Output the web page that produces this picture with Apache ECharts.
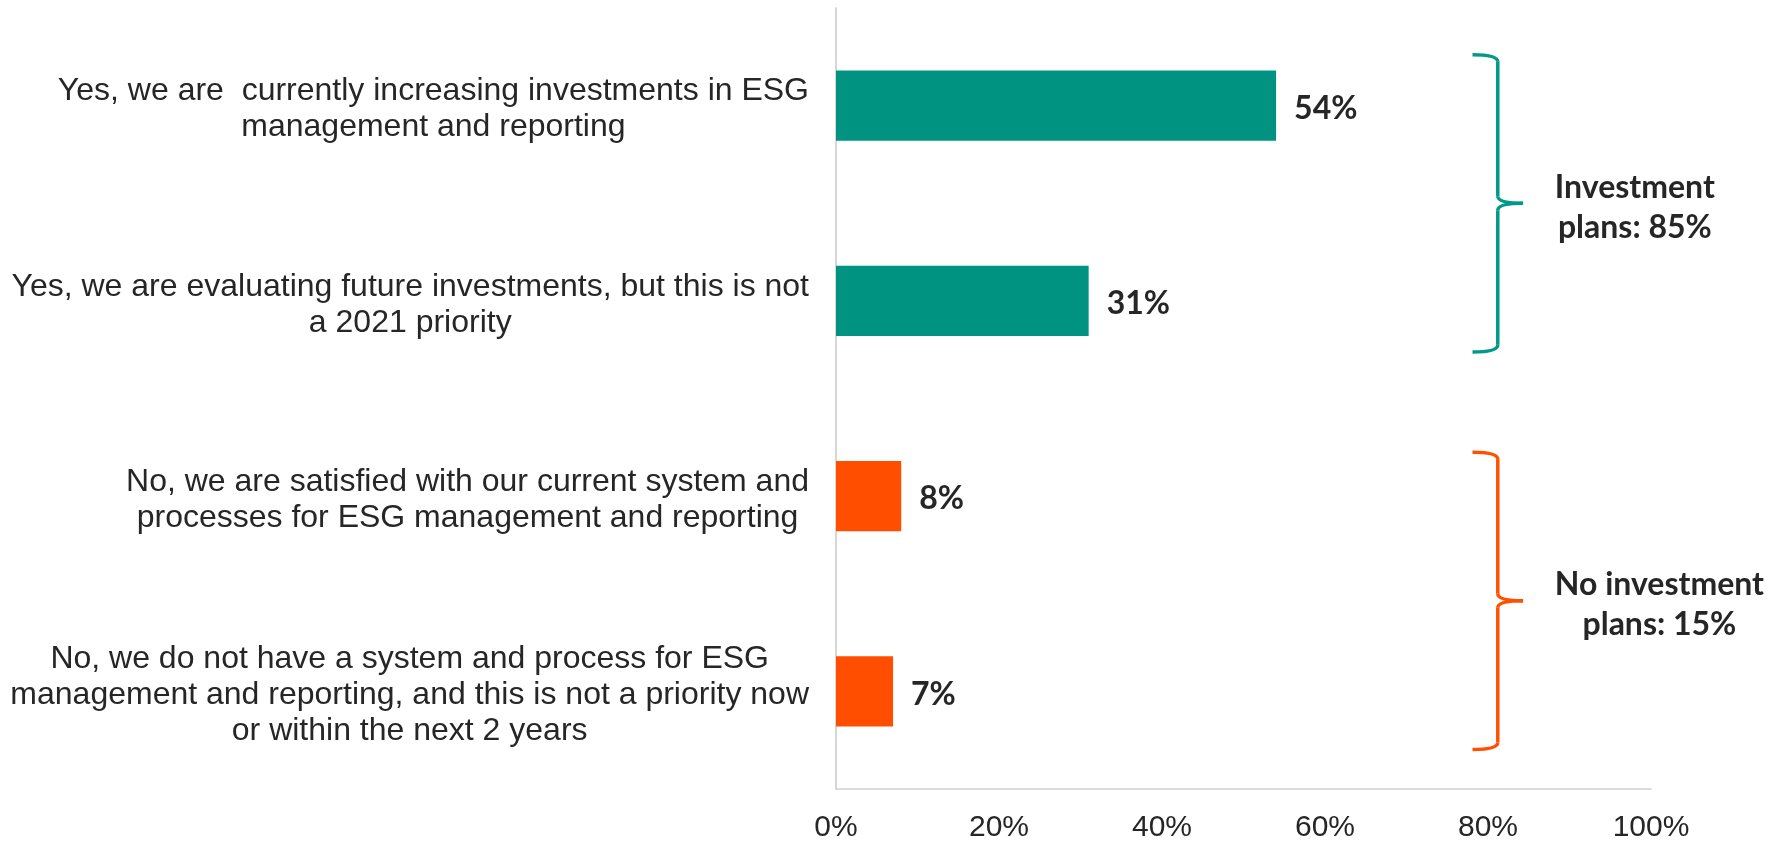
<!DOCTYPE html>
<html>
<head>
<meta charset="utf-8">
<script src="https://cdn.jsdelivr.net/npm/echarts@6/dist/echarts.min.js"></script>
<style>
  html, body { margin: 0; padding: 0; background: #fff; }
  #main { width: 1781px; height: 843px; }
</style>
</head>
<body>
<div id="main"></div>
<script>
// data
var categories = [
  'Yes, we are  currently increasing investments in ESG\nmanagement and reporting',
  'Yes, we are evaluating future investments, but this is not\na 2021 priority',
  'No, we are satisfied with our current system and\nprocesses for ESG management and reporting',
  'No, we do not have a system and process for ESG\nmanagement and reporting, and this is not a priority now\nor within the next 2 years'
];
var values = [54, 31, 8, 7];
var groupOf = [0, 0, 1, 1];
var groupLines = [['Investment', 'plans: '], ['No investment', 'plans: ']];
var groupTotals = [85, 15];
var xTicks = [0, 20, 40, 60, 80, 100];

// styles
var groupColors = ['#009382', '#FF4E00'];
var braceColors = ['#00998A', '#FF5000'];
var textColor = '#262626';
var braceShift = [0, 7];

var chart = echarts.init(document.getElementById('main'));

var option = {
  backgroundColor: '#fff',
  animation: false,
  grid: { left: 836, right: 130, top: 8, bottom: 51, containLabel: false },
  xAxis: {
    type: 'value',
    min: xTicks[0],
    max: xTicks[xTicks.length - 1],
    interval: xTicks[1] - xTicks[0],
    splitLine: { show: false },
    axisTick: { show: false },
    axisLine: { show: true, lineStyle: { color: '#d0d0d0', width: 1.5 } },
    axisLabel: {
      formatter: function (v) { return v + '%'; },
      fontFamily: 'Liberation Sans',
      fontSize: 30,
      color: textColor,
      margin: 24
    }
  },
  yAxis: {
    type: 'category',
    inverse: true,
    data: categories,
    axisTick: { show: false },
    splitLine: { show: false },
    axisLine: { show: true, lineStyle: { color: '#c8c8c8', width: 1.5 } },
    axisLabel: {
      margin: 27,
      padding: [8, 0, 0, 0],
      formatter: function (v) {
        return v.split('\n').map(function (l) { return '{c|' + l + '}'; }).join('\n');
      },
      rich: {
        c: { align: 'center', fontFamily: 'Liberation Sans', fontSize: 32, lineHeight: 36, color: textColor }
      }
    }
  },
  series: [{
    type: 'bar',
    data: values,
    barCategoryGap: '64%',
    itemStyle: {
      color: function (p) { return groupColors[groupOf[p.dataIndex]]; }
    },
    label: {
      show: true,
      position: 'right',
      distance: 18,
      offset: [0, 3],
      formatter: function (p) { return p.value + '%'; },
      fontFamily: 'Lato',
      fontWeight: 'bold',
      fontSize: 32,
      color: textColor
    }
  }]
};
chart.setOption(option);

// braces + group totals, placed from the axes
function brace(xl, xm, xt, top, mid, bottom, color) {
  var r = 7;
  var st = { stroke: color, lineWidth: 3.5, fill: 'none' };
  return [
    { type: 'bezierCurve', shape: { x1: xl, y1: top, cpx1: xm, cpy1: top, x2: xm, y2: top + r }, style: st },
    { type: 'line', shape: { x1: xm, y1: top + r, x2: xm, y2: mid - r }, style: st },
    { type: 'bezierCurve', shape: { x1: xm, y1: mid - r, cpx1: xm, cpy1: mid, x2: xt, y2: mid }, style: st },
    { type: 'bezierCurve', shape: { x1: xt, y1: mid, cpx1: xm, cpy1: mid, x2: xm, y2: mid + r }, style: st },
    { type: 'line', shape: { x1: xm, y1: mid + r, x2: xm, y2: bottom - r }, style: st },
    { type: 'bezierCurve', shape: { x1: xm, y1: bottom - r, cpx1: xm, cpy1: bottom, x2: xl, y2: bottom }, style: st }
  ];
}

var elements = [];
groupTotals.forEach(function (total, g) {
  var idx = [];
  groupOf.forEach(function (gg, i) { if (gg === g) idx.push(i); });
  var yFirst = chart.convertToPixel({ gridIndex: 0 }, [0, idx[0]])[1];
  var yLast = chart.convertToPixel({ gridIndex: 0 }, [0, idx[idx.length - 1]])[1];
  var xl = chart.convertToPixel({ xAxisIndex: 0 }, 78.1);
  var xm = chart.convertToPixel({ xAxisIndex: 0 }, 81.2);
  var xt = chart.convertToPixel({ xAxisIndex: 0 }, 84.3);
  var xText = chart.convertToPixel({ xAxisIndex: 0 }, 88.2);
  var top = yFirst - 51 + braceShift[g];
  var bottom = yLast + 51 + braceShift[g];
  var mid = (top + bottom) / 2;
  elements = elements.concat(brace(xl, xm, xt, top, mid, bottom, braceColors[g]));
  var lines = groupLines[g].slice();
  lines[lines.length - 1] += total + '%';
  elements.push({
    type: 'text',
    x: xText,
    y: mid + 4,
    style: {
      text: lines.map(function (l) { return '{c|' + l + '}'; }).join('\n'),
      align: 'left',
      verticalAlign: 'middle',
      fontFamily: 'Lato',
      fontWeight: 'bold',
      fontSize: 32,
      fill: textColor,
      rich: {
        c: { align: 'center', fontFamily: 'Lato', fontWeight: 'bold', fontSize: 32, lineHeight: 40, fill: textColor }
      }
    }
  });
});
chart.setOption({ graphic: { elements: elements } });
</script>
</body>
</html>
